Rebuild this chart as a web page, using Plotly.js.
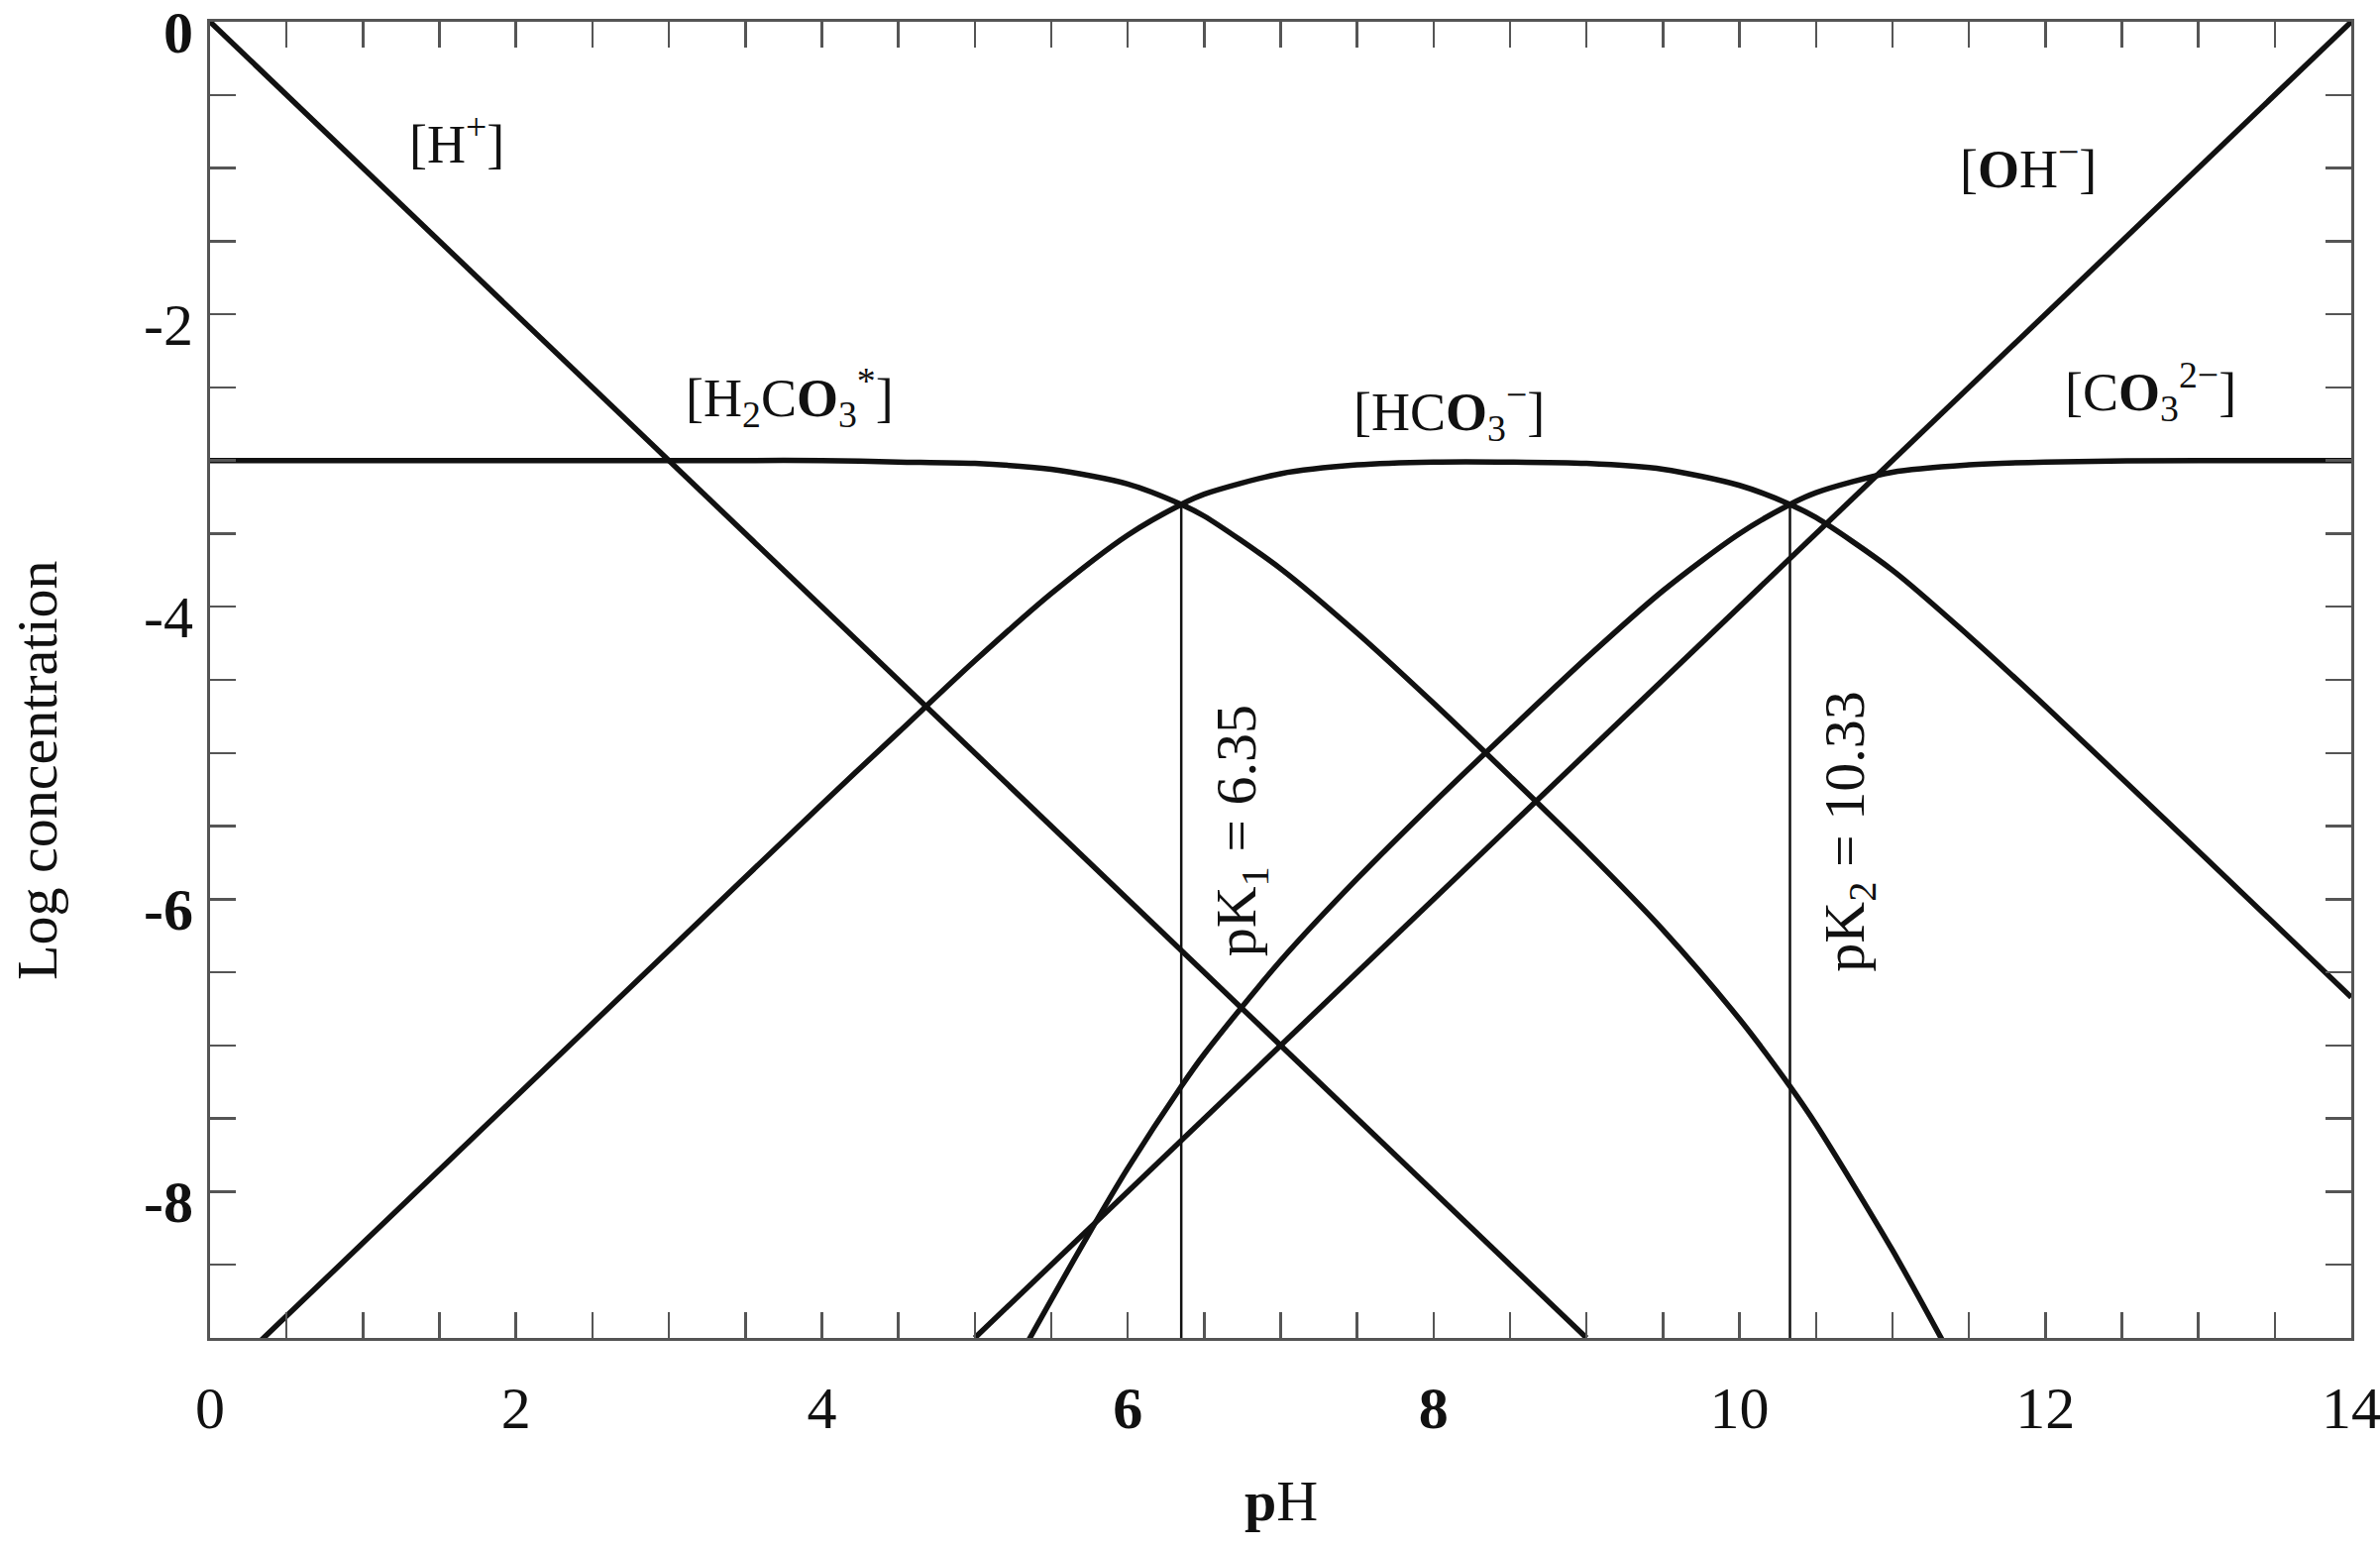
<!DOCTYPE html>
<html>
<head>
<meta charset="utf-8">
<script src="https://cdn.plot.ly/plotly-3.0.1.min.js"></script>
<style>
  html, body { margin: 0; padding: 0; background: #ffffff; }
  #chart { width: 2402px; height: 1565px; }
</style>
</head>
<body>
<div id="chart"></div>
<script>
// values (pH vs log concentration)
const hPh = [0, 9];
const hLog = [0, -9];

const ohPh = [5, 14];
const ohLog = [-9, 0];

const h2co3Ph = [0, 1, 2, 3, 3.5, 4, 4.5, 5, 5.5, 6, 6.35, 6.5, 7, 7.5, 8, 8.5, 9, 9.5, 10, 10.33, 10.5, 11, 11.37];
const h2co3Log = [-3.00, -3.00, -3.00, -3.00, -3.00, -3.00, -3.01, -3.02, -3.06, -3.16, -3.30, -3.38, -3.74, -4.18, -4.66, -5.16, -5.67, -6.21, -6.82, -7.28, -7.54, -8.40, -9.10];

const hco3Ph = [0.25, 1, 2, 3, 4, 4.5, 5, 5.5, 6, 6.35, 6.5, 7, 7.5, 8, 8.5, 9, 9.5, 10, 10.33, 10.5, 11, 11.5, 12, 13, 14];
const hco3Log = [-9.10, -8.35, -7.35, -6.35, -5.35, -4.86, -4.37, -3.91, -3.51, -3.30, -3.23, -3.09, -3.03, -3.01, -3.01, -3.02, -3.06, -3.17, -3.30, -3.39, -3.75, -4.20, -4.68, -5.67, -6.67];

const co3Ph = [5.35, 5.5, 5.75, 6, 6.35, 6.5, 7, 7.5, 8, 8.5, 9, 9.5, 10, 10.33, 10.5, 11, 11.5, 12, 13, 14];
const co3Log = [-9.02, -8.74, -8.28, -7.84, -7.28, -7.06, -6.42, -5.86, -5.34, -4.84, -4.35, -3.89, -3.50, -3.30, -3.22, -3.08, -3.03, -3.01, -3.00, -3.00];

const pkValues = [6.35, 10.33];
const pkTop = [-3.30, -3.30];
const pkLabels = ['pK<sub>1</sub> = 6.35', 'pK<sub>2</sub> = 10.33'];
const pkLabelPh = [6.74, 10.71];
const pkLabelLog = [-5.53, -5.54];

const speciesLabels = [
  '[H<sup>+</sup>]',
  '[H<sub>2</sub>C<b>O</b><sub>3</sub><sup>*</sup>]',
  '[HC<b>O</b><sub>3</sub><sup>−</sup>]',
  '[<b>O</b>H<sup>−</sup>]',
  '[C<b>O</b><sub>3</sub><sup>2−</sup>]'
];
const labelPh = [1.61, 3.79, 8.10, 11.89, 12.69];
const labelLog = [-0.81, -2.57, -2.66, -0.98, -2.53];

const xTickVals = [0, 2, 4, 6, 8, 10, 12, 14];
const xTickText = ['0', '2', '4', '<b>6</b>', '<b>8</b>', '10', '12', '14'];
const yTickVals = [0, -2, -4, -6, -8];
const yTickText = ['<b>0</b>', '-2', '-4', '<b>-6</b>', '<b>-8</b>'];

const FONT = 'Liberation Serif, Times New Roman, serif';
const INK = '#111111';
const AXIS = '#555555';

// every half unit gets a tick, only the listed values get a label
function halfSteps(lo, hi, vals, text) {
  const v = [], t = [];
  for (let k = lo * 2; k <= hi * 2; k++) {
    const x = k / 2;
    v.push(x);
    const i = vals.indexOf(x);
    t.push(i >= 0 ? text[i] : '');
  }
  return { v, t };
}

const xt = halfSteps(0, 14, xTickVals, xTickText);
const yt = halfSteps(-9, 0, yTickVals, yTickText);

const curve = (x, y, shape) => ({
  x: x,
  y: y,
  mode: 'lines',
  type: 'scatter',
  line: { color: INK, width: 5.5, shape: shape || 'linear', smoothing: 0.8 },
  hoverinfo: 'skip'
});

const traces = [
  curve(hPh, hLog),
  curve(ohPh, ohLog),
  curve(h2co3Ph, h2co3Log, 'spline'),
  curve(hco3Ph, hco3Log, 'spline'),
  curve(co3Ph, co3Log, 'spline')
];

pkValues.forEach((pk, i) => {
  traces.push({
    x: [pk, pk],
    y: [-9, pkTop[i]],
    mode: 'lines',
    type: 'scatter',
    line: { color: INK, width: 2.5 },
    hoverinfo: 'skip'
  });
});

const annotations = speciesLabels.map((txt, i) => ({
  x: labelPh[i],
  y: labelLog[i],
  xref: 'x',
  yref: 'y',
  text: txt,
  showarrow: false,
  font: { family: FONT, size: 54, color: INK }
}));

pkLabels.forEach((txt, i) => {
  annotations.push({
    x: pkLabelPh[i],
    y: pkLabelLog[i],
    xref: 'x',
    yref: 'y',
    text: txt,
    textangle: -90,
    showarrow: false,
    font: { family: FONT, size: 58, color: INK }
  });
});

// axis titles placed by hand: the y title sits below the middle of the axis
annotations.push(
  {
    x: -0.0805, y: 0.4315, xref: 'paper', yref: 'paper',
    xanchor: 'center', yanchor: 'middle',
    text: 'Log concentration', textangle: -90, showarrow: false,
    font: { family: FONT, size: 58, color: INK }
  },
  {
    x: 0.5, y: -0.124, xref: 'paper', yref: 'paper',
    xanchor: 'center', yanchor: 'middle',
    text: '<b>p</b>H', showarrow: false,
    font: { family: FONT, size: 58, color: INK }
  }
);

const axisBase = {
  showline: true,
  linecolor: AXIS,
  linewidth: 3,
  mirror: 'ticks',
  ticks: 'inside',
  ticklen: 26,
  tickwidth: 2.5,
  tickcolor: AXIS,
  tickmode: 'array',
  showgrid: false,
  zeroline: false,
  ticklabeloverflow: 'allow',
  tickfont: { family: FONT, size: 60, color: INK }
};

const layout = {
  width: 2402,
  height: 1565,
  paper_bgcolor: '#ffffff',
  plot_bgcolor: '#ffffff',
  margin: { l: 212, r: 29, t: 22, b: 215 },
  showlegend: false,
  xaxis: {
    ...axisBase,
    range: [0, 14],
    tickvals: xt.v,
    ticktext: xt.t,
    ticklabelstandoff: 16
  },
  yaxis: {
    ...axisBase,
    range: [-9, 0],
    tickvals: yt.v,
    ticktext: yt.t,
    ticklabelstandoff: 2,
    ticklabelshift: 10
  },
  annotations: annotations
};

Plotly.newPlot('chart', traces, layout, { displayModeBar: false, staticPlot: true });
</script>
</body>
</html>
